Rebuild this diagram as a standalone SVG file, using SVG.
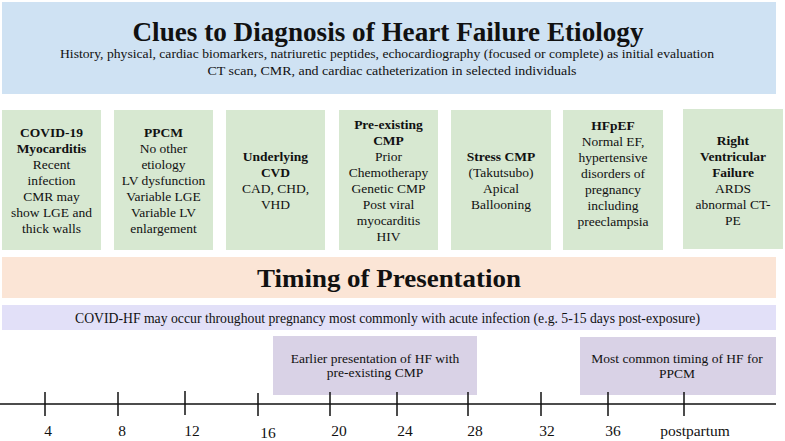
<svg xmlns="http://www.w3.org/2000/svg" width="785" height="441" viewBox="0 0 785 441" font-family="Liberation Serif, Times New Roman, serif">
<style>
text{fill:#111;text-anchor:middle}
.green{fill:#d7e8d1}
.bt{font-size:13.5px}
.b{font-weight:bold}
.tick{stroke:#111;stroke-width:1.5}
.lbl{font-size:15.5px}
.pbox{fill:#d9d2e6}
</style>
<rect width="785" height="441" fill="#ffffff"/>
<g id="header">
<rect x="2" y="2" width="774" height="92" fill="#cfe2f3"/>
<text x="388" y="41" class="b" font-size="27" textLength="511" lengthAdjust="spacingAndGlyphs">Clues to Diagnosis of Heart Failure Etiology</text>
<text x="387" y="58" font-size="13.5" textLength="654" lengthAdjust="spacingAndGlyphs">History, physical,  cardiac biomarkers,  natriuretic  peptides, echocardiography (focused or complete)  as initial  evaluation</text>
<text x="392" y="75" font-size="13.5" textLength="369" lengthAdjust="spacingAndGlyphs">CT scan, CMR, and cardiac catheterization  in selected individuals</text>
</g>
<g id="covid-myocarditis">
<rect class="green" x="2" y="110" width="99" height="140"/>
<text class="bt"><tspan class="b" x="51.5" y="137">COVID-19</tspan><tspan class="b" x="51.5" y="153">Myocarditis</tspan><tspan x="51.5" y="169">Recent</tspan><tspan x="51.5" y="185">infection</tspan><tspan x="51.5" y="201">CMR may</tspan><tspan x="51.5" y="217">show LGE and</tspan><tspan x="51.5" y="233">thick walls</tspan></text>
</g>
<g id="ppcm">
<rect class="green" x="114" y="110" width="99" height="140"/>
<text class="bt"><tspan class="b" x="163.5" y="137">PPCM</tspan><tspan x="163.5" y="153">No other</tspan><tspan x="163.5" y="169">etiology</tspan><tspan x="163.5" y="185">LV dysfunction</tspan><tspan x="163.5" y="201">Variable  LGE</tspan><tspan x="163.5" y="217">Variable  LV</tspan><tspan x="163.5" y="233">enlargement</tspan></text>
</g>
<g id="underlying-cvd">
<rect class="green" x="226" y="110" width="99" height="140"/>
<text class="bt"><tspan class="b" x="275.5" y="161">Underlying</tspan><tspan class="b" x="275.5" y="177">CVD</tspan><tspan x="275.5" y="193">CAD, CHD,</tspan><tspan x="275.5" y="209">VHD</tspan></text>
</g>
<g id="pre-existing-cmp">
<rect class="green" x="339" y="110" width="99" height="140"/>
<text class="bt"><tspan class="b" x="388.5" y="129">Pre-existing</tspan><tspan class="b" x="388.5" y="145">CMP</tspan><tspan x="388.5" y="161">Prior</tspan><tspan x="388.5" y="177">Chemotherapy</tspan><tspan x="388.5" y="193">Genetic CMP</tspan><tspan x="388.5" y="209">Post viral</tspan><tspan x="388.5" y="225">myocarditis</tspan><tspan x="388.5" y="241">HIV</tspan></text>
</g>
<g id="stress-cmp">
<rect class="green" x="451" y="110" width="100" height="140"/>
<text class="bt"><tspan class="b" x="501" y="161">Stress CMP</tspan><tspan x="501" y="177">(Takutsubo)</tspan><tspan x="501" y="193">Apical</tspan><tspan x="501" y="209">Ballooning</tspan></text>
</g>
<g id="hfpef">
<rect class="green" x="563" y="110" width="100" height="140"/>
<text class="bt"><tspan class="b" x="613" y="130">HFpEF</tspan><tspan x="613" y="146">Normal EF,</tspan><tspan x="613" y="162">hypertensive</tspan><tspan x="613" y="178">disorders of</tspan><tspan x="613" y="194">pregnancy</tspan><tspan x="613" y="210">including</tspan><tspan x="613" y="226">preeclampsia</tspan></text>
</g>
<g id="rv-failure">
<rect class="green" x="683" y="109" width="100" height="140"/>
<text class="bt"><tspan class="b" x="733" y="145">Right</tspan><tspan class="b" x="733" y="161">Ventricular</tspan><tspan class="b" x="733" y="177">Failure</tspan><tspan x="733" y="193">ARDS</tspan><tspan x="733" y="209">abnormal CT-</tspan><tspan x="733" y="225">PE</tspan></text>
</g>
<g id="timing">
<rect x="2" y="257" width="774" height="41" fill="#fbe5d6"/>
<text x="389" y="287" class="b" font-size="26" textLength="264" lengthAdjust="spacingAndGlyphs">Timing of Presentation</text>
</g>
<g id="covid-hf">
<rect x="2" y="305" width="774" height="25" fill="#e2e0f8"/>
<text x="387.5" y="323" font-size="14" textLength="625" lengthAdjust="spacingAndGlyphs">COVID-HF may occur throughout pregnancy most commonly with  acute infection  (e.g. 5-15 days post-exposure)</text>
</g>
<g id="earlier">
<rect class="pbox" x="273" y="336" width="204" height="59"/>
<text font-size="13.5"><tspan x="375" y="363">Earlier  presentation  of HF with</tspan><tspan x="375" y="377">pre-existing  CMP</tspan></text>
</g>
<g id="most-common">
<rect class="pbox" x="580" y="337" width="196" height="58"/>
<text font-size="13.5"><tspan x="677" y="363">Most common timing  of HF for</tspan><tspan x="677" y="378">PPCM</tspan></text>
</g>
<g id="connectors">
<line x1="0" y1="404" x2="776" y2="404" class="tick"/>
<line x1="45" y1="392" x2="45" y2="416" class="tick"/>
<line x1="118" y1="392" x2="118" y2="416" class="tick"/>
<line x1="185" y1="391" x2="185" y2="415" class="tick"/>
<line x1="258" y1="393" x2="258" y2="416" class="tick"/>
<line x1="330" y1="392" x2="330" y2="416" class="tick"/>
<line x1="397" y1="392" x2="397" y2="416" class="tick"/>
<line x1="468" y1="392" x2="468" y2="416" class="tick"/>
<line x1="541" y1="392" x2="541" y2="416" class="tick"/>
<line x1="608" y1="392" x2="608" y2="416" class="tick"/>
<line x1="684" y1="392" x2="684" y2="416" class="tick"/>
</g>
<g id="axis-labels">
<text class="lbl" x="48" y="436">4</text>
<text class="lbl" x="122" y="436">8</text>
<text class="lbl" x="192" y="436">12</text>
<text class="lbl" x="268" y="438">16</text>
<text class="lbl" x="339" y="436">20</text>
<text class="lbl" x="405" y="436">24</text>
<text class="lbl" x="475" y="436">28</text>
<text class="lbl" x="547" y="436">32</text>
<text class="lbl" x="613" y="436">36</text>
<text class="lbl" x="695" y="436">postpartum</text>
</g>
</svg>
